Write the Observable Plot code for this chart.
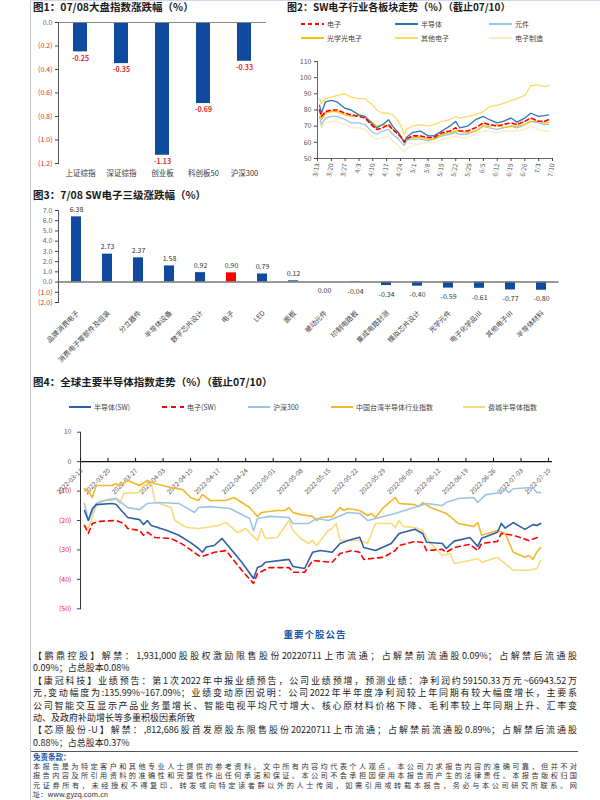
<!DOCTYPE html>
<html><head><meta charset="utf-8">
<script src="https://cdn.jsdelivr.net/npm/d3@7"></script>
<script src="https://cdn.jsdelivr.net/npm/@observablehq/plot@0.6"></script>
<style>
body{margin:0;background:#fff;}
#page{position:relative;width:600px;height:800px;overflow:hidden;font-family:"Noto Sans CJK SC","Noto Sans",sans-serif;color:#222;background:#fff;}
.abs{position:absolute;}
.title{font-size:10.5px;font-weight:bold;white-space:nowrap;line-height:14px;color:#1a1a1a;}
.leg{white-space:nowrap;display:flex;align-items:center;color:#444;}
.line{position:absolute;left:33px;white-space:nowrap;font-size:9px;line-height:12px;color:#222;}
.just{width:544px;text-align:justify;text-align-last:justify;}
.disc{position:absolute;left:33px;white-space:nowrap;font-size:7.2px;line-height:9.5px;color:#333;}
</style></head><body><div id="page"></div>
<script>
// ---------------- DATA ----------------
// Fig 1
const cats1 = ["上证综指","深证综指","创业板","科创板50","沪深300"];
const vals1 = [-0.25,-0.35,-1.13,-0.69,-0.33];
const ticks1 = [0,-0.2,-0.4,-0.6,-0.8,-1.0,-1.2];

// Fig 2 (shared dates, 2022)
const dates2 = ["03-14","03-15","03-17","03-20","03-23","03-27","03-30","04-03","04-06","04-10","04-12","04-15","04-18","04-20","04-23","04-25","04-26","04-27","04-30","05-04","05-08","05-11","05-15","05-19","05-22","05-24","05-28","06-01","06-05","06-08","06-12","06-15","06-19","06-22","06-26","06-29","07-03","07-06","07-08"];
const dianzi2   = [80,76,79,80,80,78,77,76,75,70,68,69,71,68,65,62,60,62,64,64,63,63,66,67,69,67,67,69,72,71,70,71,72,71,73,75,73,73,74];
const bandaoti2 = [83,78,85,86,85,81,80,77,76,71,69,71,74,70,66,62,60,63,66,67,64,64,67,70,73,69,70,74,76,74,72,73,75,72.5,75,78,76,76.5,77];
const yuanjian2 = [76,71,75,76,76,74,72,72,71,66,65,67,68,65,62,59,58,61,62,62,61,62,64,65,66,65,65,67,70,69,68,69,70,69,71,73,72,71,71];
const guangxue2 = [80,74,78,79,79,77,76,77,76,72,70,71,70,68,66,62,61,62,63,63,62,62,65,66,67,67,66,67,70,70,71,69,70,70,71,73,73,72,72];
const qita2     = [87,84,87,88,89,90,88,87,87,83,80,78,78,77,73,68,65,68,70,71,70,71,73,74,76,75,76,77,79,82,83,84,86,87,89,95,95.5,94.5,95];
const zhizao2   = [73,69,72,73,73,71,69,69,68,63,62,63,64,61,58,55,54,56,58,59,60,60,62,63,64,63,63,65,67,67,66,67,67,67,68,70,68,67,67];
const xticks2 = ["03-13","03-20","03-27","04-03","04-10","04-17","04-24","05-01","05-08","05-15","05-22","05-29","06-05","06-12","06-19","06-26","07-03","07-10"];
const yticks2 = [50,60,70,80,90,100,110];
const names2 = ["电子","半导体","元件","光学光电子","其他电子","电子制造"];

// Fig 3
const cats3 = ["品牌消费电子","消费电子零部件及组装","分立器件","半导体设备","数字芯片设计","电子","LED","面板","被动元件","印制电路板","集成电路封测","模拟芯片设计","光学元件","电子化学品Ⅲ","其他电子Ⅲ","半导体材料"];
const vals3 = [6.38,2.73,2.37,1.58,0.92,0.90,0.79,0.12,0.00,-0.04,-0.34,-0.40,-0.59,-0.61,-0.77,-0.80];
const ticks3 = [7,6,5,4,3,2,1,0,-1,-2];

// Fig 4 ([date, %])
const semi4 = [["03-14",-16.6],["03-15",-20],["03-16",-16],["03-17",-14.6],["03-21",-14.2],["03-22",-14.5],["03-25",-19],["03-28",-19.7],["03-29",-21.4],["03-30",-20],["03-31",-21.7],["04-04",-23.4],["04-07",-25],["04-10",-27.5],["04-12",-29.5],["04-13",-30.8],["04-14",-29],["04-16",-28.5],["04-18",-26.1],["04-19",-27.7],["04-23",-34.2],["04-26",-39.7],["04-27",-36],["04-28",-35.5],["04-29",-34.2],["05-05",-33.2],["05-06",-35.6],["05-09",-36.3],["05-11",-30.8],["05-13",-30.2],["05-16",-30.8],["05-18",-27.8],["05-20",-26.8],["05-23",-25.7],["05-24",-29.2],["05-27",-30.2],["05-31",-27.8],["06-02",-24.4],["06-06",-23],["06-08",-24.4],["06-09",-27.4],["06-13",-27.8],["06-14",-29.5],["06-16",-27],["06-20",-25.8],["06-22",-28.8],["06-23",-26],["06-27",-24],["06-28",-21],["06-29",-22.6],["07-01",-20.7],["07-04",-23],["07-06",-21.4],["07-07",-21.7],["07-08",-21]];
const elec4 = [["03-14",-21.7],["03-15",-24.4],["03-16",-21],["03-18",-20.3],["03-22",-20],["03-24",-21],["03-25",-22.7],["03-28",-23.4],["03-29",-25],["03-30",-24],["04-01",-25.8],["04-05",-26.1],["04-08",-28.1],["04-12",-31.9],["04-13",-32.2],["04-16",-30.8],["04-19",-30.2],["04-21",-33.6],["04-23",-36.9],["04-26",-41.4],["04-27",-38],["04-30",-36],["05-05",-36],["05-06",-37.6],["05-09",-37.6],["05-11",-33.6],["05-16",-34.2],["05-18",-31.2],["05-21",-30.2],["05-23",-30.8],["05-24",-33.2],["05-29",-32.5],["06-01",-30.2],["06-02",-28.5],["06-06",-27.1],["06-08",-27.5],["06-09",-30.2],["06-13",-29.8],["06-14",-30.8],["06-16",-29.2],["06-20",-28.1],["06-22",-30.2],["06-23",-27.8],["06-27",-27.1],["06-28",-24.4],["07-01",-25],["07-05",-26.8],["07-08",-25.4]];
const hs4 = [["03-14",-14.2],["03-15",-20],["03-17",-14.2],["03-20",-12.9],["03-22",-12.5],["03-25",-15.6],["03-28",-16.3],["03-30",-14.2],["04-02",-13.9],["04-07",-14.2],["04-11",-17.3],["04-12",-15.6],["04-15",-15.3],["04-20",-15.9],["04-25",-19.3],["04-26",-23.4],["04-27",-19.3],["04-30",-18.6],["05-05",-19],["05-06",-21],["05-10",-21],["05-12",-19.3],["05-15",-20],["05-17",-19],["05-20",-17.3],["05-23",-17.6],["05-25",-20],["05-28",-19],["06-01",-17.6],["06-05",-15.9],["06-09",-14.2],["06-13",-14.9],["06-14",-13.9],["06-17",-12.5],["06-21",-12.2],["06-22",-13.9],["06-24",-11.2],["06-28",-10.5],["06-29",-9.5],["06-30",-10.5],["07-01",-9.2],["07-06",-8.8],["07-07",-10.5],["07-08",-10.5]];
const tw4 = [["03-14",-9.2],["03-15",-9.8],["03-16",-12.2],["03-17",-8.1],["03-21",-8.1],["03-22",-7.5],["03-23",-8.1],["03-25",-6.4],["03-28",-8.1],["03-30",-6.4],["04-01",-7.5],["04-05",-8.8],["04-08",-9.5],["04-10",-12.2],["04-12",-13.2],["04-13",-11.2],["04-15",-13.2],["04-19",-13.2],["04-21",-12.2],["04-25",-15.6],["04-27",-18.6],["04-28",-17.3],["05-02",-16.6],["05-04",-16.6],["05-05",-15.6],["05-06",-17.3],["05-08",-18],["05-11",-18.6],["05-12",-20],["05-13",-19],["05-16",-18.6],["05-18",-15.6],["05-19",-16.6],["05-20",-15.9],["05-23",-16.6],["05-25",-18.3],["05-26",-17.6],["05-27",-19],["05-29",-15.6],["06-01",-12.2],["06-02",-14.2],["06-06",-14.6],["06-07",-15.3],["06-08",-13.9],["06-10",-15.6],["06-14",-17.6],["06-17",-21],["06-21",-22],["06-22",-20.7],["06-23",-25],["06-27",-23.4],["06-29",-24.4],["07-01",-30.8],["07-04",-32.5],["07-05",-31.9],["07-06",-33.2],["07-07",-30.8],["07-08",-29.2]];
const ph4 = [["03-14",-21.7],["03-15",-22.7],["03-16",-19],["03-17",-14.9],["03-18",-13.2],["03-21",-13.2],["03-22",-12.5],["03-23",-14.2],["03-24",-10.8],["03-28",-10.5],["03-29",-8.1],["03-31",-7.5],["04-01",-13.9],["04-02",-14.2],["04-05",-15.6],["04-06",-20],["04-09",-22.4],["04-12",-22.7],["04-14",-22.4],["04-17",-21.7],["04-19",-20.7],["04-22",-24.1],["04-24",-22.7],["04-27",-26.8],["04-28",-22.7],["04-29",-26.1],["05-02",-25.8],["05-05",-20],["05-06",-23.4],["05-08",-26.1],["05-10",-27.8],["05-11",-26.8],["05-12",-28.5],["05-15",-23.4],["05-16",-22.7],["05-17",-21],["05-18",-26.8],["05-23",-26.8],["05-25",-27.8],["05-27",-21],["05-31",-21],["06-01",-22.4],["06-02",-20],["06-03",-22],["06-06",-22.4],["06-08",-23.4],["06-10",-27.8],["06-13",-31.9],["06-15",-31.2],["06-16",-34.6],["06-20",-33.6],["06-22",-32.9],["06-23",-34.2],["06-27",-32.5],["07-01",-36.9],["07-05",-36.9],["07-07",-36.3],["07-08",-33.6]];
const xticks4 = ["03-13","03-20","03-27","04-03","04-10","04-17","04-24","05-01","05-08","05-15","05-22","05-29","06-05","06-12","06-19","06-26","07-03","07-10"];
const yticks4 = [10,0,-10,-20,-30,-40,-50];
const names4 = ["半导体(SW)","电子(SW)","沪深300","中国台湾半导体行业指数","费城半导体指数"];

// Text
const notice = [
  "【鹏鼎控股】解禁：1,931,000股股权激励限售股份20220711上市流通；占解禁前流通股0.09%；占解禁后流通股",
  "0.09%；占总股本0.08%",
  "【康冠科技】业绩预告：第1次2022年中报业绩预告，公司业绩预增，预测业绩：净利润约59150.33万元~66943.52万",
  "元,变动幅度为:135.99%~167.09%；业绩变动原因说明：公司2022年半年度净利润较上年同期有较大幅度增长，主要系",
  "公司智能交互显示产品业务量增长、智能电视平均尺寸增大、核心原材料价格下降、毛利率较上年同期上升、汇率变",
  "动、及政府补助增长等多重积极因素所致",
  "【芯原股份-U】解禁：,812,686股首发原股东限售股份20220711上市流通；占解禁前流通股0.89%；占解禁后流通股",
  "0.88%；占总股本0.37%"
];
const noticeJust = [true,false,true,true,true,false,true,false];
const disclaimer = [
  "本报告是为特定客户和其他专业人士提供的参考资料。文中所有内容均代表个人观点。本公司力求报告内容的准确可靠，但并不对",
  "报告内容及所引用资料的准确性和完整性作出任何承诺和保证。本公司不会承担因使用本报告而产生的法律责任。本报告版权归国",
  "元证券所有，未经授权不得复印、转发或向特定读者群以外的人士传阅，如需引用或转载本报告，务必与本公司研究所联系。网",
  "址：www.gyzq.com.cn"
];

// ---------------- HELPERS ----------------
const RED = "#FF0000", LBLRED = "#E8262A", BAR = "#0F4A9E";
const FONT = "'Noto Sans CJK SC','Noto Sans',sans-serif";
const P = s => new Date("2022-" + s + "T00:00:00Z");
const paren = (d, k) => d < 0 ? "(" + Math.abs(d).toFixed(k) + ")" : d.toFixed(k);
const page = document.getElementById("page");
function div(cls, style, html) {
  const d = document.createElement("div");
  d.className = cls; Object.assign(d.style, style); d.innerHTML = html; page.appendChild(d); return d;
}
function place(node, left, top) {
  const d = document.createElement("div"); d.className = "abs";
  d.style.left = left + "px"; d.style.top = top + "px"; d.appendChild(node); page.appendChild(d);
}
function legendItem(x, y, label, color, dash, swLen, sw, fs) {
  div("abs leg", {left: x + "px", top: (y - 6) + "px", height: "12px", fontSize: fs + "px"},
    `<svg width="${swLen}" height="12" style="margin-right:3px;overflow:visible"><line x1="0" x2="${swLen}" y1="6" y2="6" stroke="${color}" stroke-width="${sw}" ${dash ? `stroke-dasharray="${dash}"` : ""}/></svg><span>${label}</span>`);
}
const baseStyle = {fontFamily: FONT, fontSize: "7px", color: "#444", background: "transparent", overflow: "visible"};

// page rules
div("abs", {left: "30px", top: "0px", width: "1px", height: "800px", background: "#c8c8c8"}, "");
div("abs", {left: "30px", top: "0px", width: "570px", height: "1px", background: "#cfd8e6"}, "");

// ---------------- FIG 1 ----------------
div("abs title", {left: "33px", top: "0px"}, "图1：07/08大盘指数涨跌幅（%）");
const fig1 = Plot.plot({
  width: 245, height: 170, marginLeft: 28, marginRight: 9, marginTop: 8, marginBottom: 21,
  style: baseStyle,
  x: {domain: cats1, paddingInner: 0.66, paddingOuter: 0.33, axis: null},
  y: {domain: [-1.2, 0], axis: null},
  marks: [
    Plot.barY(cats1, {x: d => d, y: (d, i) => vals1[i], fill: BAR}),
    Plot.ruleY([0], {stroke: "#888"}),
    Plot.frame({anchor: "left", stroke: "#555"}),
    Plot.axisY({ticks: ticks1, tickSize: 3, tickPadding: 3, fontSize: 7, tickFormat: d => paren(d, 1), fill: d => d < 0 ? LBLRED : "#666"}),
    Plot.text(cats1, {x: d => d, y: (d, i) => vals1[i], text: (d, i) => vals1[i].toFixed(2), dy: 6.5, fill: LBLRED, fontSize: 7, fontWeight: "bold"}),
    Plot.axisX({anchor: "bottom", tickSize: 0, tickPadding: 7.5, fontSize: 7.5, fill: "#333"})
  ]
});
place(fig1, 30, 14);

// ---------------- FIG 2 ----------------
div("abs title", {left: "287px", top: "0px", fontSize: "10px"}, "图2：SW电子行业各板块走势（%）（截止07/10）");
const cols2 = [RED, "#2E75B6", "#9DC3E6", "#FFC000", "#FFD966", "#FCEBBE"];
const dash2 = ["4,3", null, null, null, null, null];
const legPos2 = [[301,24],[395,24],[489,24],[301,38],[395,38],[489,38]];
names2.forEach((n, i) => legendItem(legPos2[i][0], legPos2[i][1], n, cols2[i], dash2[i], 23, 2, 7));
const series2 = [dianzi2, bandaoti2, yuanjian2, guangxue2, qita2, zhizao2];
const d2 = dates2.map(P);
const drawOrder2 = [5, 2, 4, 3, 1, 0];
const fig2 = Plot.plot({
  width: 270, height: 135, marginLeft: 27, marginRight: 8, marginTop: 11, marginBottom: 27,
  style: baseStyle,
  x: {type: "utc", domain: [P("03-13"), P("07-10")], axis: null},
  y: {domain: [50, 110], axis: null},
  marks: [
    Plot.frame({anchor: "left", stroke: "#666"}),
    Plot.frame({anchor: "bottom", stroke: "#666"}),
    Plot.axisY({ticks: yticks2, tickSize: 3, tickPadding: 3, fontSize: 7, fill: "#555"}),
    Plot.axisX({ticks: xticks2.map(P), tickSize: 3, tickPadding: 2, tickRotate: -80, fontSize: 6.5, fill: "#555", tickFormat: d => (d.getUTCMonth() + 1) + "/" + d.getUTCDate()}),
    ...drawOrder2.map(i => Plot.line(series2[i], {x: d2, y: series2[i], stroke: cols2[i], strokeWidth: i === 0 ? 1.6 : 1.3, strokeDasharray: dash2[i] || undefined}))
  ]
});
place(fig2, 290, 50);

// ---------------- FIG 3 ----------------
div("abs title", {left: "33px", top: "188px"}, "图3：7/08 SW电子三级涨跌幅（%）");
const fig3 = Plot.plot({
  width: 540, height: 180, marginLeft: 28, marginRight: 11.35, marginTop: 10, marginBottom: 78,
  style: baseStyle,
  x: {domain: cats3, paddingInner: 0.68, paddingOuter: 0.34, axis: null},
  y: {domain: [-2, 7], axis: null},
  marks: [
    Plot.barY(cats3, {x: d => d, y: (d, i) => vals3[i], fill: d => d === "电子" ? RED : BAR}),
    Plot.ruleY([0], {stroke: "#777", strokeWidth: 1.5}),
    Plot.frame({anchor: "left", stroke: "#555"}),
    Plot.axisY({ticks: ticks3, tickSize: 3, tickPadding: 3, fontSize: 7, tickFormat: d => paren(d, 1), fill: d => d < 0 ? LBLRED : "#666"}),
    Plot.text(cats3, {x: d => d, y: (d, i) => vals3[i], text: (d, i) => vals3[i].toFixed(2), fontSize: 7, fill: "#333",
      filter: (d, i) => vals3[i] > 0, dy: -7}),
    Plot.text(cats3, {x: d => d, y: (d, i) => vals3[i], text: (d, i) => vals3[i].toFixed(2), fontSize: 7, fill: "#333",
      filter: (d, i) => vals3[i] <= 0, dy: 9}),
    Plot.text(cats3, {x: d => d, frameAnchor: "bottom", rotate: -45, textAnchor: "end", dy: 11, dx: 3, fontSize: 7, fill: "#444"})
  ]
});
place(fig3, 30, 200);

// ---------------- FIG 4 ----------------
div("abs title", {left: "33px", top: "375px"}, "图4：全球主要半导体指数走势（%）（截止07/10）");
const cols4 = ["#2F5FA7", RED, "#9DC3E6", "#F2B82C", "#F9DA7A"];
const dash4 = [null, "5,4", null, null, null];
const legPos4 = [69, 162, 248, 331, 463];
names4.forEach((n, i) => legendItem(legPos4[i], 407, n, cols4[i], dash4[i], 22, 2, 7));
const series4 = [semi4, elec4, hs4, tw4, ph4];
const drawOrder4 = [4, 3, 2, 0, 1];
const fig4 = Plot.plot({
  width: 530, height: 200, marginLeft: 50, marginRight: 8, marginTop: 11.7, marginBottom: 11.7,
  style: baseStyle,
  x: {type: "utc", domain: [P("03-13"), P("07-11")], axis: null},
  y: {domain: [-50, 10], axis: null},
  marks: [
    Plot.frame({anchor: "left", stroke: "#333"}),
    Plot.axisY({ticks: yticks4, tickSize: 3, tickPadding: 6, fontSize: 7, tickFormat: d => paren(d, 0), fill: d => d < 0 ? LBLRED : "#666"}),
    Plot.ruleY([0], {stroke: "#111", strokeWidth: 1.2}),
    Plot.ruleX(xticks4, {x: P, y1: 0, y2: 1.1, stroke: "#111"}),
    Plot.text(xticks4, {x: P, y: 0, text: d => "2022-" + d, rotate: -45, textAnchor: "end", dy: 8, dx: 1, fontSize: 6.5, fill: "#555"}),
    ...drawOrder4.map(i => Plot.line(series4[i], {x: d => P(d[0]), y: d => d[1], stroke: cols4[i], strokeWidth: 1.6, strokeDasharray: dash4[i] || undefined, curve: "linear"}))
  ]
});
place(fig4, 30, 420);

// ---------------- TEXT ----------------
div("abs", {left: "0px", width: "630px", top: "627px", lineHeight: "14px", textAlign: "center", fontSize: "9.5px", fontWeight: "bold", color: "#2255A4", letterSpacing: "1px"}, "重要个股公告");
const lineTop = [650, 662.4, 674.8, 687.2, 699.6, 712, 724.4, 736.8];
notice.forEach((t, i) => div("line" + (noticeJust[i] ? " just" : ""), {top: lineTop[i] + "px"}, t));
div("abs", {left: "31px", top: "750.5px", width: "547px", height: "1.5px", background: "#555"}, "");
div("abs", {left: "33px", top: "752px", lineHeight: "10px", fontSize: "7.5px", fontWeight: "bold", color: "#2255A4"}, "免责条款：");
const discTop = [761.5, 771, 780.5, 790];
disclaimer.forEach((t, i) => div("disc" + (i < 3 ? " just" : ""), {top: discTop[i] + "px"}, t));
</script></body></html>
